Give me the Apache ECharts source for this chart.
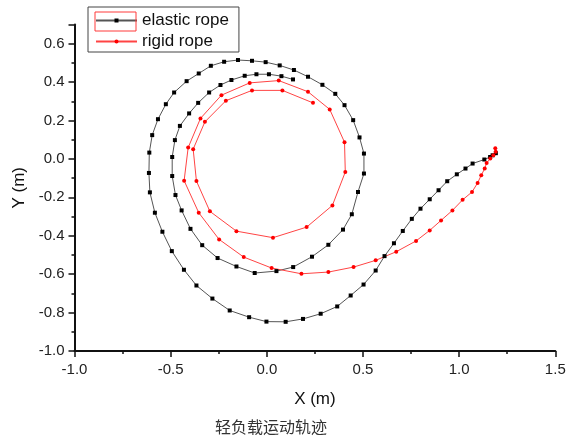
<!DOCTYPE html>
<html>
<head>
<meta charset="utf-8">
<script src="https://cdn.jsdelivr.net/npm/echarts@6/dist/echarts.min.js"></script>
<style>
  html, body { margin: 0; padding: 0; background: #fff; }
  #chart { width: 570px; height: 436px; }
</style>
</head>
<body>
<div id="chart"></div>
<script>
// elastic rope trajectory, inner end -> spiral -> tail
const elasticX = [0.136, 0.076, 0.011, -0.054, -0.115, -0.184, -0.241, -0.300, -0.357, -0.404,
  -0.452, -0.478, -0.492, -0.492, -0.475, -0.443, -0.397, -0.336, -0.256, -0.158,
  -0.063, 0.050, 0.137, 0.235, 0.320, 0.396, 0.442, 0.474, 0.505, 0.505,
  0.482, 0.449, 0.404, 0.356, 0.289, 0.214, 0.141, 0.067, -0.006, -0.077,
  -0.150, -0.222, -0.291, -0.354, -0.417, -0.482, -0.525, -0.566, -0.596, -0.611,
  -0.613, -0.608, -0.582, -0.543, -0.494, -0.431, -0.366, -0.283, -0.193, -0.092,
  -0.002, 0.098, 0.188, 0.280, 0.366, 0.436, 0.503, 0.566, 0.612, 0.661,
  0.707, 0.754, 0.799, 0.847, 0.893, 0.938, 0.988, 1.033, 1.070, 1.131,
  1.161, 1.174, 1.191];
const elasticY = [0.414, 0.431, 0.441, 0.441, 0.433, 0.411, 0.385, 0.346, 0.292, 0.237,
  0.172, 0.098, 0.010, -0.089, -0.188, -0.268, -0.364, -0.449, -0.516, -0.560,
  -0.594, -0.584, -0.563, -0.509, -0.447, -0.368, -0.288, -0.172, -0.076, 0.028,
  0.112, 0.202, 0.280, 0.339, 0.386, 0.428, 0.463, 0.487, 0.504, 0.511,
  0.515, 0.506, 0.485, 0.445, 0.405, 0.346, 0.285, 0.207, 0.124, 0.033,
  -0.073, -0.174, -0.280, -0.379, -0.480, -0.577, -0.659, -0.727, -0.789, -0.824,
  -0.847, -0.848, -0.833, -0.806, -0.768, -0.711, -0.654, -0.581, -0.506, -0.439,
  -0.375, -0.312, -0.259, -0.210, -0.163, -0.116, -0.080, -0.050, -0.024, -0.003,
  0.010, 0.019, 0.030];

// rigid rope trajectory, tail -> spiral -> inner end
const rigidX = [1.188, 1.190, 1.178, 1.162, 1.143, 1.133, 1.115, 1.096, 1.067, 1.018,
  0.965, 0.906, 0.847, 0.776, 0.673, 0.566, 0.451, 0.320, 0.180, 0.025,
  -0.120, -0.248, -0.354, -0.430, -0.409, -0.345, -0.236, -0.089, 0.062, 0.214,
  0.327, 0.404, 0.408, 0.341, 0.207, 0.032, -0.158, -0.296, -0.366, -0.383,
  -0.322, -0.213, -0.077, 0.081, 0.240];
const rigidY = [0.056, 0.038, 0.019, 0.002, -0.021, -0.050, -0.085, -0.125, -0.172, -0.213,
  -0.268, -0.320, -0.372, -0.427, -0.483, -0.528, -0.563, -0.589, -0.598, -0.568,
  -0.511, -0.419, -0.280, -0.113, 0.059, 0.211, 0.332, 0.396, 0.408, 0.350,
  0.258, 0.087, -0.068, -0.242, -0.355, -0.410, -0.376, -0.273, -0.115, 0.051,
  0.193, 0.303, 0.357, 0.357, 0.292];

const seriesNames = ["elastic rope", "rigid rope"];
const caption = "轻负载运动轨迹";

const zip = (xs, ys) => xs.map((x, i) => [x, ys[i]]);

const chart = echarts.init(document.getElementById("chart"));

const axisCommon = {
  type: "value",
  nameLocation: "middle",
  nameTextStyle: { fontFamily: "Liberation Sans", fontSize: 17, color: "#111" },
  axisLine: { show: true, onZero: false, lineStyle: { color: "#111", width: 2 } },
  axisTick: { show: true, inside: false, length: 6, lineStyle: { color: "#111", width: 1.5 } },
  minorTick: { show: true, splitNumber: 2, length: 3, lineStyle: { color: "#111", width: 1.5 } },
  splitLine: { show: false },
  minorSplitLine: { show: false },
  axisLabel: {
    fontFamily: "Liberation Sans", fontSize: 15, color: "#222",
    formatter: (v) => v.toFixed(1)
  }
};

const option = {
  animation: false,
  backgroundColor: "#fff",
  grid: { left: 74.5, right: 14.7, top: 24.5, bottom: 85 },
  title: {
    text: caption,
    left: 215,
    top: 419,
    padding: 0,
    textStyle: { fontFamily: "Noto Sans CJK SC", fontSize: 16, fontWeight: "normal", color: "#333", lineHeight: 16 }
  },
  legend: {
    data: seriesNames,
    orient: "vertical",
    left: 88,
    top: 7,
    padding: [5, 10, 2, 7],
    itemWidth: 41,
    itemHeight: 5,
    itemGap: 4,
    borderColor: "#444",
    borderWidth: 1,
    textStyle: { fontFamily: "Liberation Sans", fontSize: 17, color: "#111" }
  },
  xAxis: Object.assign({}, axisCommon, {
    min: -1.0, max: 1.5, interval: 0.5,
    name: "X (m)", nameGap: 40,
    axisLabel: Object.assign({}, axisCommon.axisLabel, { margin: 11 })
  }),
  yAxis: Object.assign({}, axisCommon, {
    min: -1.0, max: 0.7, interval: 0.2,
    name: "Y (m)", nameGap: 46, nameRotate: 90,
    axisLabel: Object.assign({}, axisCommon.axisLabel, { margin: 10, showMaxLabel: false })
  }),
  graphic: [
    // red highlight frame around the first legend sample
    { type: "rect", shape: { x: 95, y: 12, width: 41, height: 19 },
      style: { fill: null, stroke: "#ff3b3b", lineWidth: 1 }, z: 100 }
  ],
  series: [
    {
      name: seriesNames[0], type: "line", data: zip(elasticX, elasticY),
      symbol: "rect", symbolSize: 4, showAllSymbol: true,
      itemStyle: { color: "#000" },
      lineStyle: { color: "#555", width: 1 }
    },
    {
      name: seriesNames[1], type: "line", data: zip(rigidX, rigidY),
      symbol: "circle", symbolSize: 4, showAllSymbol: true,
      itemStyle: { color: "#ff0000" },
      lineStyle: { color: "#ff4444", width: 1 }
    }
  ]
};

chart.setOption(option);
</script>
</body>
</html>
